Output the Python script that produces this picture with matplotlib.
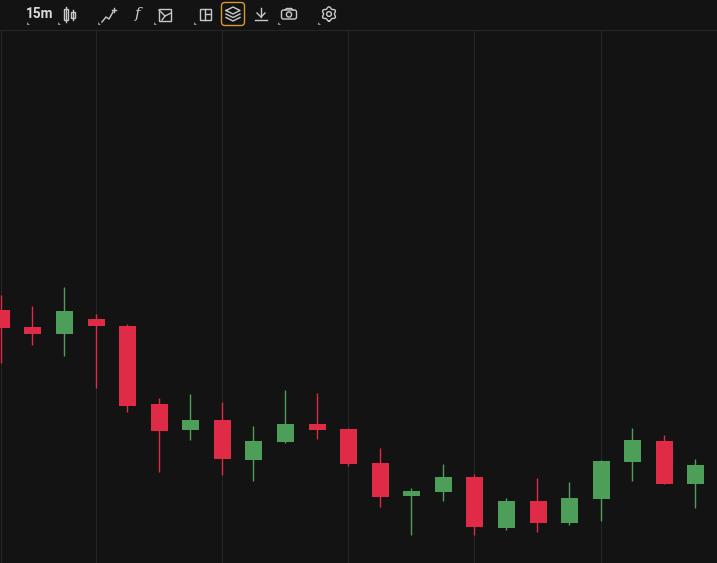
import matplotlib
matplotlib.use("Agg")
import matplotlib.pyplot as plt
from matplotlib.patches import Rectangle, FancyBboxPatch, Circle, Polygon
from matplotlib.transforms import Affine2D
import numpy as np

opens = [253,236,229,244,237,159,133,143,103,121,139,134,100,67,71,86,35,62,40,64,101,122,79]
highs = [268,257,276,249,239,165,169,161,137,173,170,135,115,75,99,89,65,85,81,103,135,128,104]
lows = [200,218,207,175,151,91,123,88,82,120,124,97,56,28,62,28,33,31,38,42,82,79,55]
closes = [235,229,252,237,157,132,143,104,122,139,133,99,66,72,86,36,62,40,65,102,123,79,98]
grid_candles = [0,3,7,11,15,19]
timeframe = "15m"

BG = "#131314"
RED = "#e02b47"
GREEN = "#4c9e59"
GRID = "#262627"
ICON = "#c9c9c9"

W, H = 717, 563
fig = plt.figure(figsize=(W/100, H/100), dpi=100, facecolor=BG)
ax = fig.add_axes([0, 0, 1, 1], facecolor=BG)
step = 31.57
ax.set_xlim(-1.4/step, (W-1.4)/step)
ax.set_ylim(0, H)
ax.axis("off")
shift = ax.transData + Affine2D().translate(-0.6, 0)

for g in grid_candles:
    ax.plot([g, g], [0, H-30], color=GRID, lw=0.72, zorder=1, solid_capstyle="butt", transform=shift)
for i, (o, h, l, c) in enumerate(zip(opens, highs, lows, closes)):
    col = GREEN if c > o else RED
    ax.plot([i, i], [l, h], color=col, lw=1.0, zorder=2, solid_capstyle="butt", transform=shift)
    ax.bar(i, abs(c-o), bottom=min(o, c), width=17/step, color=col, zorder=3, linewidth=0)

# toolbar overlay in pixel coordinates
t = fig.add_axes([0, 0, 1, 1], facecolor="none")
t.set_xlim(0, W); t.set_ylim(H, 0); t.axis("off")
t.plot([0, W], [30, 30], color="#262627", lw=0.8)
t.text(40, 14.5, timeframe, color="#dcdcdc", fontsize=9.8, ha="center", va="center",
       family="Roboto", fontweight="bold")
lw = 1.0
# small corner triangles
for x in [27, 58, 98, 154, 194, 278, 318]:
    t.add_patch(Polygon([(x, 22), (x, 25), (x+3, 25)], color="#8a8a8a", lw=0))
# candles icon
t.add_patch(Rectangle((64, 9), 4, 11, fill=False, ec=ICON, lw=lw))
t.plot([66, 66], [7, 22], color=ICON, lw=lw)
t.add_patch(Rectangle((71, 11.5), 3.5, 6, fill=False, ec=ICON, lw=lw))
t.plot([72.7, 72.7], [9.5, 19.5], color=ICON, lw=lw)
# trend icon
t.plot([102, 106, 109, 113], [22, 17, 19, 12], color=ICON, lw=lw)
t.plot([112, 116], [9.5, 9.5], color=ICON, lw=lw)
t.plot([114, 114], [7.5, 11.5], color=ICON, lw=lw)
# function icon
t.text(138, 14, "f", color=ICON, fontsize=11, style="italic", ha="center", va="center", family="DejaVu Serif")
# image icon
t.add_patch(Rectangle((159, 8.5), 12, 12, fill=False, ec=ICON, lw=lw))
t.plot([159, 165, 171], [10, 16, 13], color=ICON, lw=lw)
t.plot([162, 165], [20, 16], color=ICON, lw=lw)
# layout icon
t.add_patch(Rectangle((199.5, 8.5), 11.5, 11.5, fill=False, ec=ICON, lw=lw))
t.plot([205, 205], [8.5, 20], color=ICON, lw=lw)
t.plot([205, 211], [14, 14], color=ICON, lw=lw)
# layers icon with highlight
t.add_patch(FancyBboxPatch((221.5, 2.5), 23, 23, boxstyle="round,pad=0,rounding_size=3.5", fill=False, ec="#d9982f", lw=1))
t.plot([226, 233, 240, 233, 226], [10.5, 7, 10.5, 14, 10.5], color=ICON, lw=lw)
t.plot([226, 233, 240], [14, 17.5, 14], color=ICON, lw=lw)
t.plot([226, 233, 240], [17.5, 21, 17.5], color=ICON, lw=lw)
# download icon
t.plot([261, 261], [7.5, 16.5], color=ICON, lw=lw)
t.plot([257, 261, 265], [13, 17, 13], color=ICON, lw=lw)
t.plot([255, 267], [20, 20], color=ICON, lw=lw)
# camera icon
t.add_patch(FancyBboxPatch((281.5, 10), 15, 9, boxstyle="round,pad=0,rounding_size=2", fill=False, ec=ICON, lw=lw))
t.add_patch(Circle((289, 14.5), 2.6, fill=False, ec=ICON, lw=lw))
t.plot([285, 286.5, 291.5, 293], [10, 8.5, 8.5, 10], color=ICON, lw=lw)
# gear icon
ang = np.linspace(0, 2*np.pi, 97)
rad = 6.3 + 0.9*np.cos(6*ang)
t.plot(329 + rad*np.sin(ang), 14 + rad*np.cos(ang), color=ICON, lw=lw)
t.add_patch(Circle((329, 14), 2.4, fill=False, ec=ICON, lw=lw))

fig.savefig("out.png", dpi=100, facecolor=BG)
